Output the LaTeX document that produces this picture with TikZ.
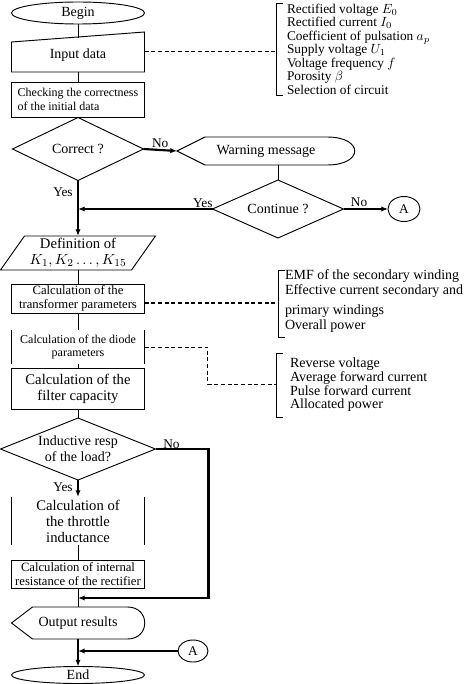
\documentclass[tikz,border=0pt]{standalone}
\usepackage{fontspec}
\setmainfont{Liberation Serif}
\usetikzlibrary{calc, positioning, shapes.geometric, arrows.meta}

\def\pu{0.75pt}

\begin{document}
\begin{tikzpicture}[x=0.75pt, y=-0.75pt,
  font=\fontsize{10.5}{12}\selectfont,
  every node/.style={inner sep=0pt, outer sep=0pt},
  boxline/.style={line width=0.7pt},
  base/.style={minimum width=133*\pu, align=center},
  proc/.style={base, draw, boxline},
  term/.style={ellipse, draw, boxline, minimum width=133*\pu},
  dec/.style={diamond, draw, boxline},
  conn/.style={ellipse, draw, boxline, font=\fontsize{10}{12}\selectfont},
  flow/.style={line width=0.7pt},
  bold/.style={line width=1.6pt, -{Latex[length=5pt, width=4pt]}},
  note/.style={line width=0.7pt, dash pattern=on 3pt off 2pt},
  notebold/.style={line width=1.3pt, dash pattern=on 3pt off 2pt},
  lbl/.style={font=\fontsize{10}{12}\selectfont},
  list/.style={anchor=west, align=left},
  boxsmall/.style={font=\fontsize{9.5}{10.5}\selectfont},
  boxlarge/.style={font=\fontsize{11}{12}\selectfont}
]
\useasboundingbox (0,0) rectangle (473,684);

% main column
\node[term, minimum height=22*\pu] (begin) at (78,13) {Begin};
\node[base, minimum height=34*\pu] (input) at (78,55) {Input data};
\draw[boxline] ($(input.north west)+(0,4)$) -- ($(input.north east)+(0,-6)$)
  -- (input.south east) -- (input.south west) -- cycle;
\node[proc, font=\fontsize{9}{10.5}\selectfont, minimum height=35*\pu, align=left] (check) at (78,99.5)
  {Checking the correctness\\of the initial data};
\node[dec, minimum width=131*\pu, minimum height=63*\pu] (correct) at (78,149) {};
\node (correcttxt) at (correct) {Correct ?};

\node[minimum width=178*\pu, minimum height=28*\pu] (warn) at (266,151) {Warning message};
\draw[boxline] (warn.west) -- ($(warn.north west)+(28,0)$) -- ($(warn.north east)+(-28,0)$)
  .. controls +(37,0) and +(37,0) .. ($(warn.south east)+(-28,0)$)
  -- ($(warn.south west)+(28,0)$) -- cycle;
\node[dec, minimum width=131*\pu, minimum height=58*\pu] (cont) at (278,209) {};
\node (conttxt) at (cont) {Continue ?};
\node[conn, minimum width=32*\pu, minimum height=25*\pu] (a1) at (404,209) {A};

\node[base, boxlarge, minimum width=131*\pu, minimum height=34*\pu] (defn) at (78,253)
  {Definition of\\$K_1,K_2\ldots,K_{15}$};
\draw[boxline] ($(defn.north west)+(12,0)$) -- ($(defn.north east)+(12,0)$)
  -- ($(defn.south east)+(-12,0)$) -- ($(defn.south west)+(-12,0)$) -- cycle;

\node[proc, boxsmall, minimum height=29*\pu] (trans) at (78,298.5)
  {Calculation of the\\transformer parameters};
\node[base, font=\fontsize{9}{10}\selectfont, minimum height=34*\pu] (diode) at (78,347)
  {Calculation of the diode\\parameters};
\draw[boxline] (diode.north west) -- (diode.south west)
  (diode.north east) -- (diode.south east);
\node[proc, boxlarge, minimum height=41*\pu] (filter) at (78,388.5)
  {Calculation of the\\filter capacity};

\node[dec, minimum width=155*\pu, minimum height=62*\pu] (induct) at (78,449) {};
\node[align=center] (inducttxt) at (induct) {Inductive resp\\of the load?};
\node[base, boxlarge, minimum height=48*\pu] (throttle) at (78,521)
  {Calculation of\\the throttle\\inductance};
\draw[boxline] (throttle.north west) -- (throttle.south west)
  (throttle.north east) -- (throttle.south east);
\node[proc, boxsmall, minimum height=28*\pu] (intres) at (78,574)
  {Calculation of internal\\resistance of the rectifier};

\node[minimum width=133*\pu, minimum height=32*\pu] (output) at (78,623) {Output results};
\draw[boxline] (output.west) -- ($(output.north west)+(21,0)$) -- ($(output.north east)+(-17,0)$)
  .. controls +(23,0) and +(23,0) .. ($(output.south east)+(-17,0)$)
  -- ($(output.south west)+(21,0)$) -- cycle;
\node[term, minimum height=17*\pu] (end) at (78,675) {End};
\node[conn, minimum width=30*\pu, minimum height=22*\pu] (a2) at (193,651) {A};

% notes on the right
\node[list, font=\fontsize{10}{10.1}\selectfont] (list1) at (287,49)
  {Rectified voltage $E_0$\\Rectified current $I_0$\\Coefficient of pulsation $a_p$\\Supply voltage $U_1$\\Voltage frequency $f$\\Porosity $\beta$\\Selection of circuit};
\draw[boxline] (283,3) -- (276,3) -- (276,95) -- (283,95);
\node[list, font=\fontsize{10.5}{11.25}\selectfont] (list2) at (285,301)
  {EMF of the secondary winding\\Effective current secondary and\\[3.75pt]primary windings\\Overall power};
\draw[boxline] (285,270) -- (278,270) -- (278,337) -- (285,337);
\node[list, font=\fontsize{10.5}{10.3}\selectfont] (list3) at (290,385)
  {Reverse voltage\\Average forward current\\Pulse forward current\\Allocated power};
\draw[boxline] (283,353) -- (276,353) -- (276,417) -- (283,417);

\coordinate (br1) at (276,51);
\coordinate (br2) at (278,303);
\coordinate (br3) at (276,384);
\coordinate (jn1) at (correct.south |- cont.west);
\coordinate (jn2) at (78,598);
\coordinate (jn3) at (output.south |- a2.west);

% connectors
\draw[flow] (begin.south) -- (input.north);
\draw[flow] (input.south) -- (check.north);
\draw[flow] (check.south) -- (correct.north);
\draw[bold] (correct.east) -- node[lbl, above=2pt] {No} (warn.west);
\draw[flow] (cont.north) -- (cont.north |- warn.south);
\draw[bold] (correct.south) -- node[lbl, left=4pt, pos=0.21] {Yes} (defn.north);
\draw[bold] (cont.west) -- node[lbl, anchor=south east, pos=0, yshift=1pt] {Yes} (jn1);
\draw[bold] (cont.east) -- node[lbl, above=2pt, pos=0.35] {No} (a1.west);
\draw[flow] (defn.south) -- (trans.north);
\draw[flow] (trans.south) -- (diode.north);
\draw[flow] (diode.south) -- (filter.north);
\draw[flow] (filter.south) -- (induct.north);
\draw[bold] (induct.south) -- node[lbl, left=4pt, pos=0.4] {Yes} (throttle.north);
\draw[flow] (throttle.south) -- (intres.north);
\draw[bold] (induct.east) -- node[lbl, above=0pt, pos=0.3] {No} ++(53,0) |- (jn2);
\draw[flow] (intres.south) -- (output.north);
\draw[bold] (output.south) -- (end.north);
\draw[bold] (a2.west) -- (jn3);

\draw[note] ($(input.east)+(0,-4)$) -- (br1);
\draw[notebold] (trans.east |- br2) -- (br2);
\draw[note] (diode.east) -- ++(63,0) |- (br3);
\end{tikzpicture}
\end{document}
